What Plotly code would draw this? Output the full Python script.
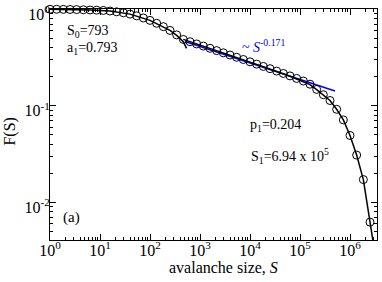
import plotly.graph_objects as go

# bin positions (log10 of avalanche size S) and measured log10 F(S)
log_S = [0.000, 0.133, 0.267, 0.400, 0.533, 0.667, 0.800, 0.933, 1.067, 1.200,
         1.333, 1.467, 1.600, 1.733, 1.867, 2.000, 2.133, 2.267, 2.400, 2.533,
         2.667, 2.800, 2.933, 3.067, 3.200, 3.333, 3.467, 3.600, 3.733, 3.867,
         4.000, 4.133, 4.267, 4.400, 4.533, 4.667, 4.800, 4.933, 5.067, 5.200,
         5.333, 5.467, 5.600, 5.733, 5.867, 6.000, 6.133, 6.267, 6.400]
log_F = [0.000, 0.000, -0.001, -0.002, -0.003, -0.005, -0.007, -0.009, -0.012, -0.018,
         -0.026, -0.036, -0.050, -0.068, -0.090, -0.115, -0.145, -0.180, -0.219, -0.265,
         -0.3125, -0.336, -0.359, -0.381, -0.404, -0.428, -0.451, -0.474, -0.497, -0.520,
         -0.544, -0.568, -0.592, -0.615, -0.640, -0.665, -0.690, -0.716, -0.743, -0.776,
         -0.830, -0.885, -0.945, -1.036, -1.146, -1.307, -1.510, -1.764, -2.205]

# fit curve pieces (log10 values)
fit1_logS = [0.000, 0.400, 0.800, 1.200, 1.600, 2.000, 2.267, 2.400, 2.533, 2.667, 2.730]
fit1_logF = [0.000, -0.002, -0.007, -0.018, -0.050, -0.115, -0.180, -0.219, -0.270, -0.335, -0.405]
fit2_logS = [2.667, 3.200, 3.733, 4.267, 4.800, 5.067, 5.200, 5.333, 5.467, 5.600,
             5.733, 5.867, 6.000, 6.133, 6.267, 6.400, 6.460]
fit2_logF = [-0.312, -0.404, -0.497, -0.594, -0.694, -0.748, -0.780, -0.832, -0.885, -0.945,
             -1.036, -1.146, -1.307, -1.510, -1.764, -2.205, -2.400]

# power-law guide ~ S^-0.171
pl_logS = [2.70, 5.70]
pl_logF = [-0.333, -0.846]

x_tick_vals = [1, 10, 100, 1e3, 1e4, 1e5, 1e6]
x_tick_text = ["10<sup>0</sup>", "10<sup>1</sup>", "10<sup>2</sup>", "10<sup>3</sup>",
               "10<sup>4</sup>", "10<sup>5</sup>", "10<sup>6</sup>"]
y_tick_vals = [1, 0.1, 0.01]
y_tick_text = ["10<sup>0</sup>", "10<sup>-1</sup>", "10<sup>-2</sup>"]

p10 = lambda v: [10 ** a for a in v]

FONT = "Liberation Serif"
fig = go.Figure()
fig.add_trace(go.Scatter(x=p10(pl_logS), y=p10(pl_logF), mode="lines",
                         line=dict(color="#0000ff", width=1.5), showlegend=False))
fig.add_trace(go.Scatter(x=p10(fit1_logS), y=p10(fit1_logF), mode="lines",
                         line=dict(color="black", width=1.5), showlegend=False))
fig.add_trace(go.Scatter(x=p10(fit2_logS), y=p10(fit2_logF), mode="lines",
                         line=dict(color="black", width=1.5), showlegend=False))
fig.add_trace(go.Scatter(x=p10(log_S), y=p10(log_F), mode="markers", cliponaxis=False,
                         marker=dict(symbol="circle-open", size=8, color="black",
                                     line=dict(width=1, color="black")),
                         showlegend=False))

def ann(x, y, text, color="black", size=14):
    fig.add_annotation(x=x, y=y, xref="x", yref="y", text=text, showarrow=False,
                       xanchor="left", yanchor="middle", xshift=-2,
                       font=dict(family=FONT, size=size, color=color))

ann(0.34, -0.228, "S<sub>0</sub>=793")
ann(0.34, -0.404, "a<sub>1</sub>=0.793")
ann(3.83, -0.38, "~ <i>S</i><sup>-0.171</sup>", color="#0000ff", size=14)
ann(4.00, -1.20, "p<sub>1</sub>=0.204")
ann(4.02, -1.52, "S<sub>1</sub>=6.94 x 10<sup>5</sup>")
ann(0.26, -2.16, "(a)", size=15)

# axis titles as paper annotations
fig.add_annotation(x=0.532, y=-0.12, xref="paper", yref="paper",
                   text="avalanche size, <i>S</i>", showarrow=False,
                   xanchor="center", yanchor="middle",
                   font=dict(family=FONT, size=16, color="black"))
fig.add_annotation(x=-0.122, y=0.47, xref="paper", yref="paper",
                   text="F(S)", showarrow=False, textangle=-90,
                   xanchor="center", yanchor="middle",
                   font=dict(family=FONT, size=16, color="black"))

axis_common = dict(showgrid=False, zeroline=False, showline=True, linecolor="black",
                   linewidth=1, mirror="allticks", ticks="inside", ticklen=6,
                   tickcolor="black", tickwidth=1, automargin=False,
                   minor=dict(ticks="inside", ticklen=3, dtick="D1", tickcolor="black",
                              showgrid=False),
                   tickfont=dict(family=FONT, size=16, color="black"))

fig.update_xaxes(type="log", range=[0, 6.54], tickmode="array",
                 tickvals=x_tick_vals, ticktext=x_tick_text,
                 ticklabelstandoff=-4, **axis_common)
fig.update_yaxes(type="log", range=[-2.39, 0.003], tickmode="array",
                 tickvals=y_tick_vals, ticktext=y_tick_text,
                 ticklabelstandoff=-4, ticklabelshift=5, **axis_common)

fig.update_layout(width=382, height=282, margin=dict(l=50, r=5, t=9, b=42),
                  plot_bgcolor="white", paper_bgcolor="white",
                  font=dict(family=FONT, color="black"))
fig.write_html("out.html", config={"displayModeBar": False},
               post_script="document.body.style.margin='0';")
